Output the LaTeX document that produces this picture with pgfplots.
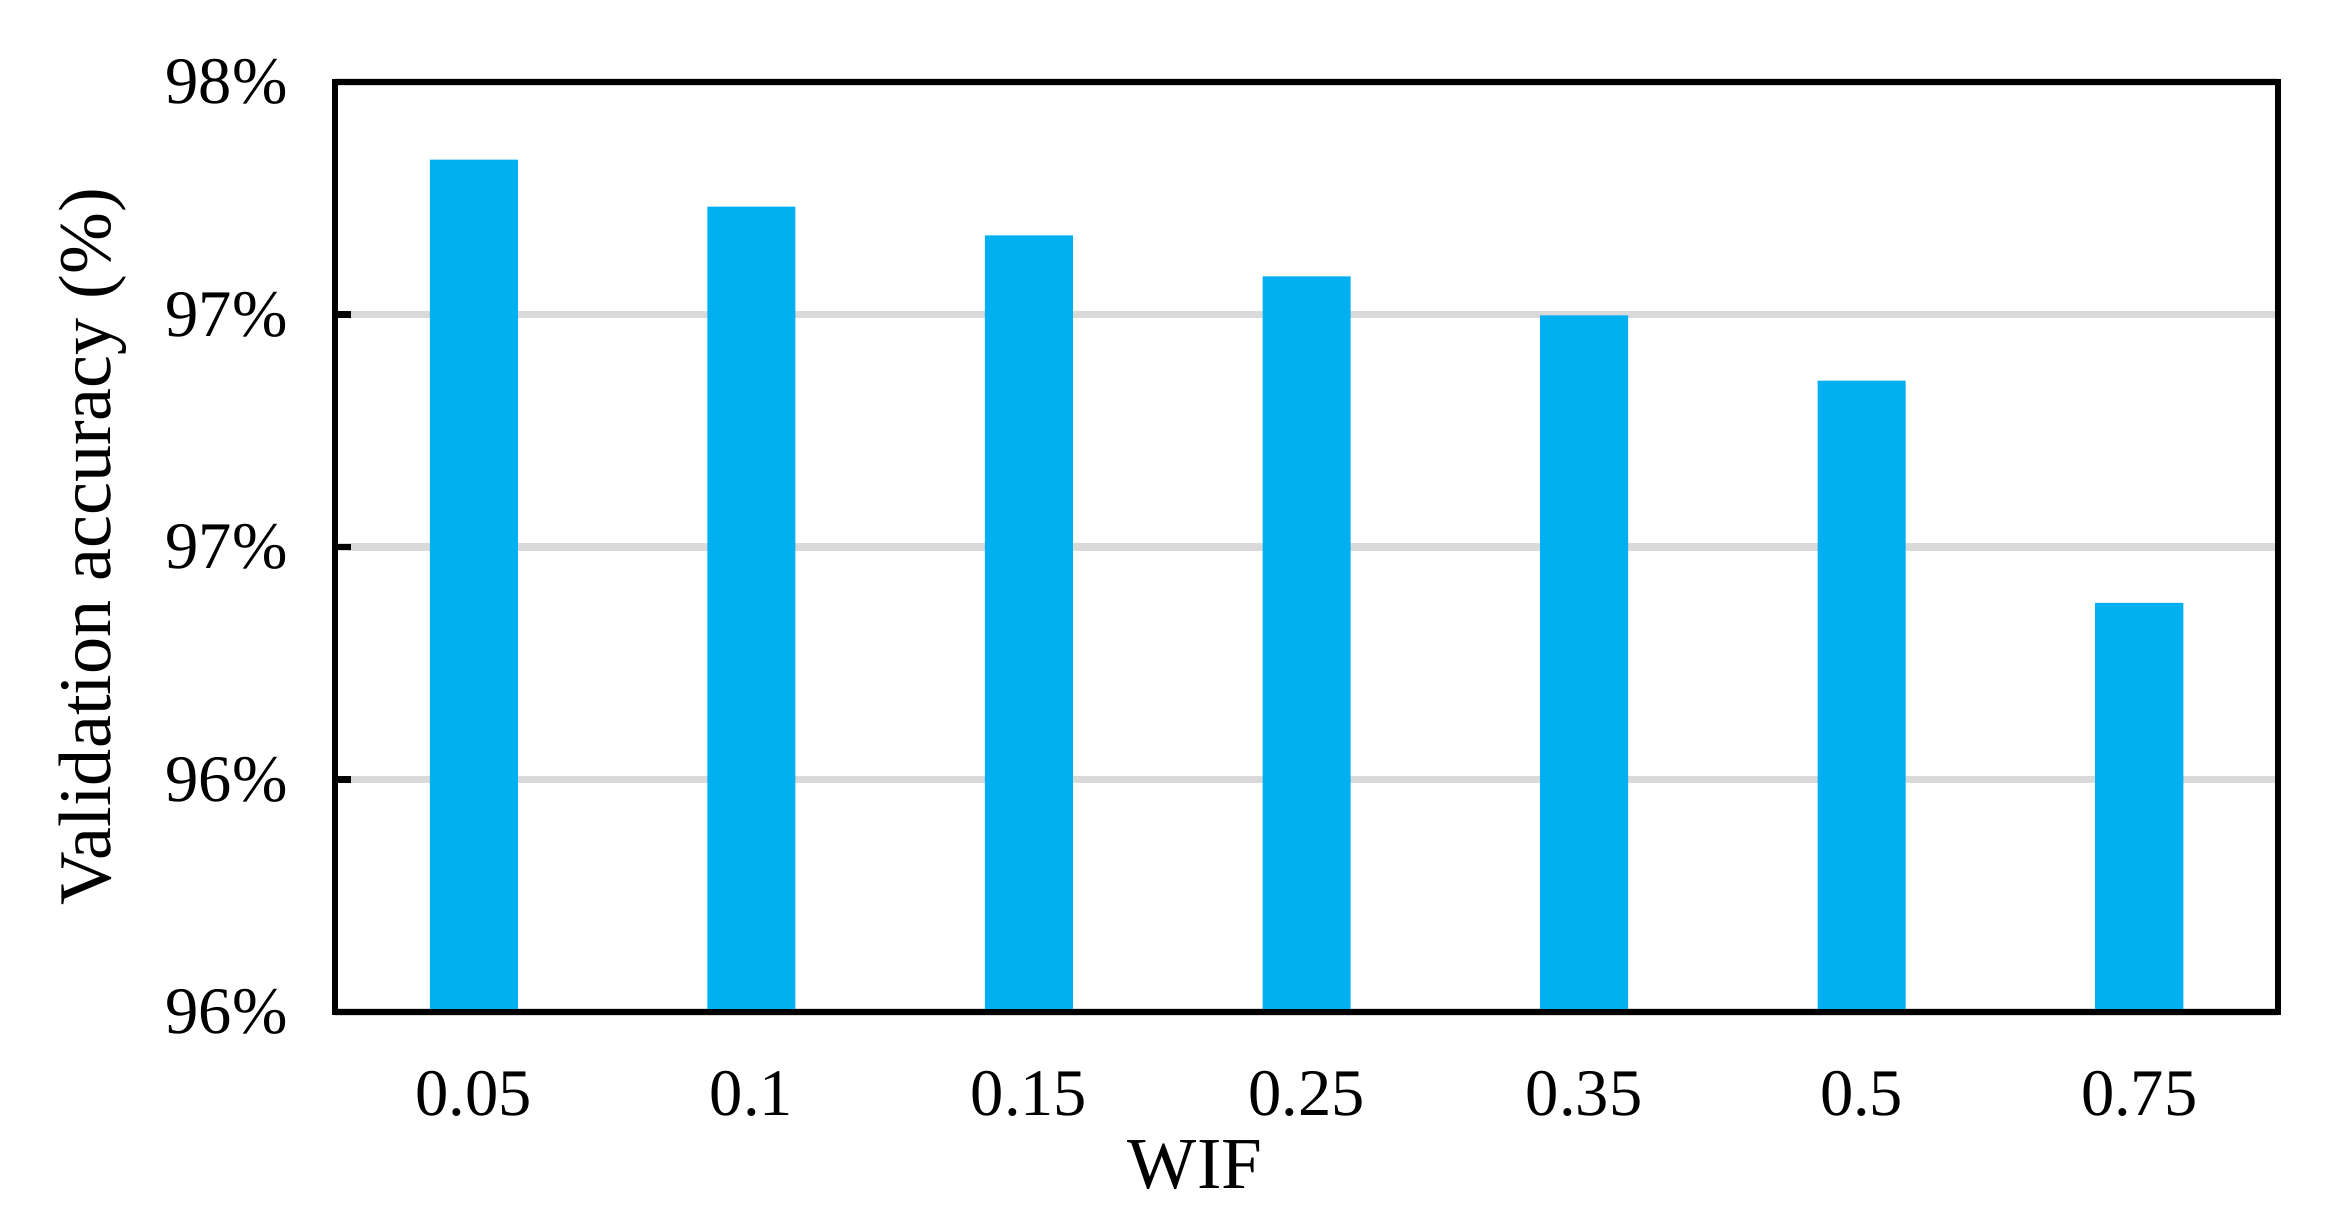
\documentclass[border=0pt]{standalone}
\usepackage{fontspec}
\setmainfont{Liberation Serif}
\usepackage{pgfplots}
\pgfplotsset{compat=1.18}
\definecolor{barblue}{HTML}{00B0F0}
\definecolor{gridgray}{HTML}{D9D9D9}

\begin{document}
\begin{tikzpicture}
\begin{axis}[
    scale only axis,
    width=13.24cm, height=6.337cm,
    xmin=-0.5, xmax=6.5,
    ymin=95.5, ymax=97.5,
    xtick={0,1,2,3,4,5,6},
    xticklabels={0.05,0.1,0.15,0.25,0.35,0.5,0.75},
    ytick={95.5,96,96.5,97,97.5},
    yticklabels={96\%,96\%,97\%,97\%,98\%},
    major x tick style={draw=none},
    ytick pos=left,
    tick align=inside,
    major tick length=0.11cm,
    ytick style={black, line width=1.2pt},
    ymajorgrids=true,
    grid style={gridgray, line width=1.4pt},
    axis line style={line width=1.3pt},
    tick label style={font=\fontsize{12.9}{15}\selectfont},
    xticklabel style={yshift=-0.28cm},
    yticklabel style={anchor=east, xshift=-0.2cm},
    every axis x label/.style={at={(axis description cs:0.4426,0)}, yshift=-1.04cm,
        anchor=center, font=\fontsize{14.2}{17}\selectfont},
    every axis y label/.style={at={(axis description cs:0,0.5)}, xshift=-1.65cm,
        rotate=90, anchor=center, font=\fontsize{14.4}{17}\selectfont},
    xlabel={WIF},
    ylabel={Validation accuracy (\%)},
]
\addplot[ybar, bar width=0.6cm, fill=barblue, draw=none] coordinates {
    (0, 97.333)
    (1, 97.232)
    (2, 97.170)
    (3, 97.082)
    (4, 96.998)
    (5, 96.858)
    (6, 96.380)
};
\draw[line width=1.3pt] (rel axis cs:0,0) rectangle (rel axis cs:1,1);
\end{axis}
\path ([xshift=-2.283cm,yshift=-1.465cm]current axis.south west)
    rectangle ([xshift=0.477cm,yshift=0.559cm]current axis.north east);
\end{tikzpicture}
\end{document}
